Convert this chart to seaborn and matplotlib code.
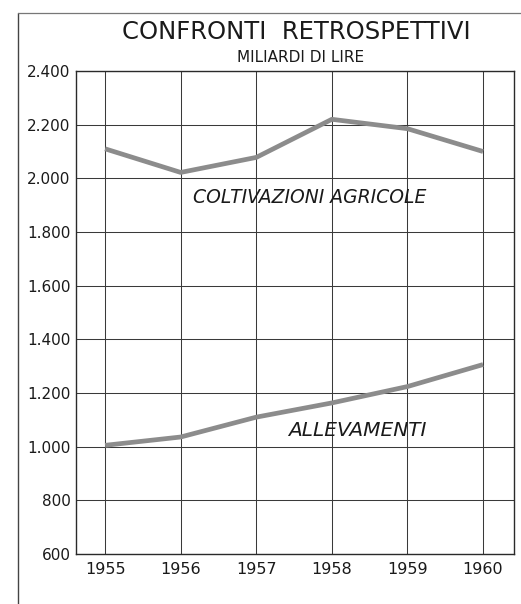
import matplotlib
matplotlib.use("Agg")
import matplotlib.pyplot as plt
from matplotlib.lines import Line2D
import pandas as pd
import seaborn as sns

years = [1955, 1956, 1957, 1958, 1959, 1960]
coltivazioni = [2110, 2022, 2078, 2220, 2185, 2100]
allevamenti = [1005, 1036, 1110, 1163, 1224, 1306]
y_ticks = [600, 800, 1000, 1200, 1400, 1600, 1800, 2000, 2200, 2400]
y_tick_labels = ["600", "800", "1.000", "1.200", "1.400", "1.600",
                 "1.800", "2.000", "2.200", "2.400"]

df = pd.DataFrame({
    "anno": years * 2,
    "valore": coltivazioni + allevamenti,
    "serie": ["COLTIVAZIONI AGRICOLE"] * len(years) + ["ALLEVAMENTI"] * len(years),
})

sns.set_style("white")
plt.rcParams["font.family"] = ["DejaVu Sans"]

fig = plt.figure(figsize=(5.21, 6.04), dpi=100)
ax = fig.add_axes([76 / 521, 50 / 604, 438 / 521, 483 / 604])

sns.lineplot(data=df, x="anno", y="valore", hue="serie",
             palette=["#8c8c8c", "#8c8c8c"], linewidth=3.4,
             legend=False, ax=ax, solid_capstyle="butt")

ax.set_xlim(1954.615, 1960.41)
ax.set_ylim(600, 2400)
ax.set_xticks(years)
ax.set_xticklabels([str(y) for y in years])
ax.set_yticks(y_ticks)
ax.set_yticklabels(y_tick_labels)
ax.set_xlabel("")
ax.set_ylabel("")

ax.grid(True, color="#3a3a3a", linewidth=0.75)
ax.set_axisbelow(True)
for side in ["left", "right", "top", "bottom"]:
    ax.spines[side].set_visible(True)
    ax.spines[side].set_color("#2a2a2a")
    ax.spines[side].set_linewidth(1.0)

ax.tick_params(axis="y", which="both", length=0, labelsize=11, pad=4,
               labelcolor="#1a1a1a")
ax.tick_params(axis="x", which="both", length=0, labelsize=11.5, pad=6,
               labelcolor="#1a1a1a")

# series labels
ax.text(1956.16, 1930, "COLTIVAZIONI AGRICOLE", fontsize=13.5, style="italic",
        ha="left", va="center", color="#1a1a1a")
ax.text(1958.33, 1062, "ALLEVAMENTI", fontsize=14.5, style="italic",
        ha="center", va="center", color="#1a1a1a")

# headings
fig.text(296 / 521, 1 - 32 / 604, "CONFRONTI  RETROSPETTIVI", fontsize=17.5,
         ha="center", va="center", color="#1a1a1a")
fig.text(301 / 521, 1 - 57 / 604, "MILIARDI DI LIRE", fontsize=11,
         ha="center", va="center", color="#1a1a1a")

# page frame
fig.add_artist(Line2D([17.5 / 521, 17.5 / 521], [0, 1 - 13 / 604],
                      transform=fig.transFigure, color="#444444", linewidth=1.0))
fig.add_artist(Line2D([17.5 / 521, 1], [1 - 13 / 604, 1 - 13 / 604],
                      transform=fig.transFigure, color="#777777", linewidth=0.9))

fig.savefig("out.png", dpi=100)
